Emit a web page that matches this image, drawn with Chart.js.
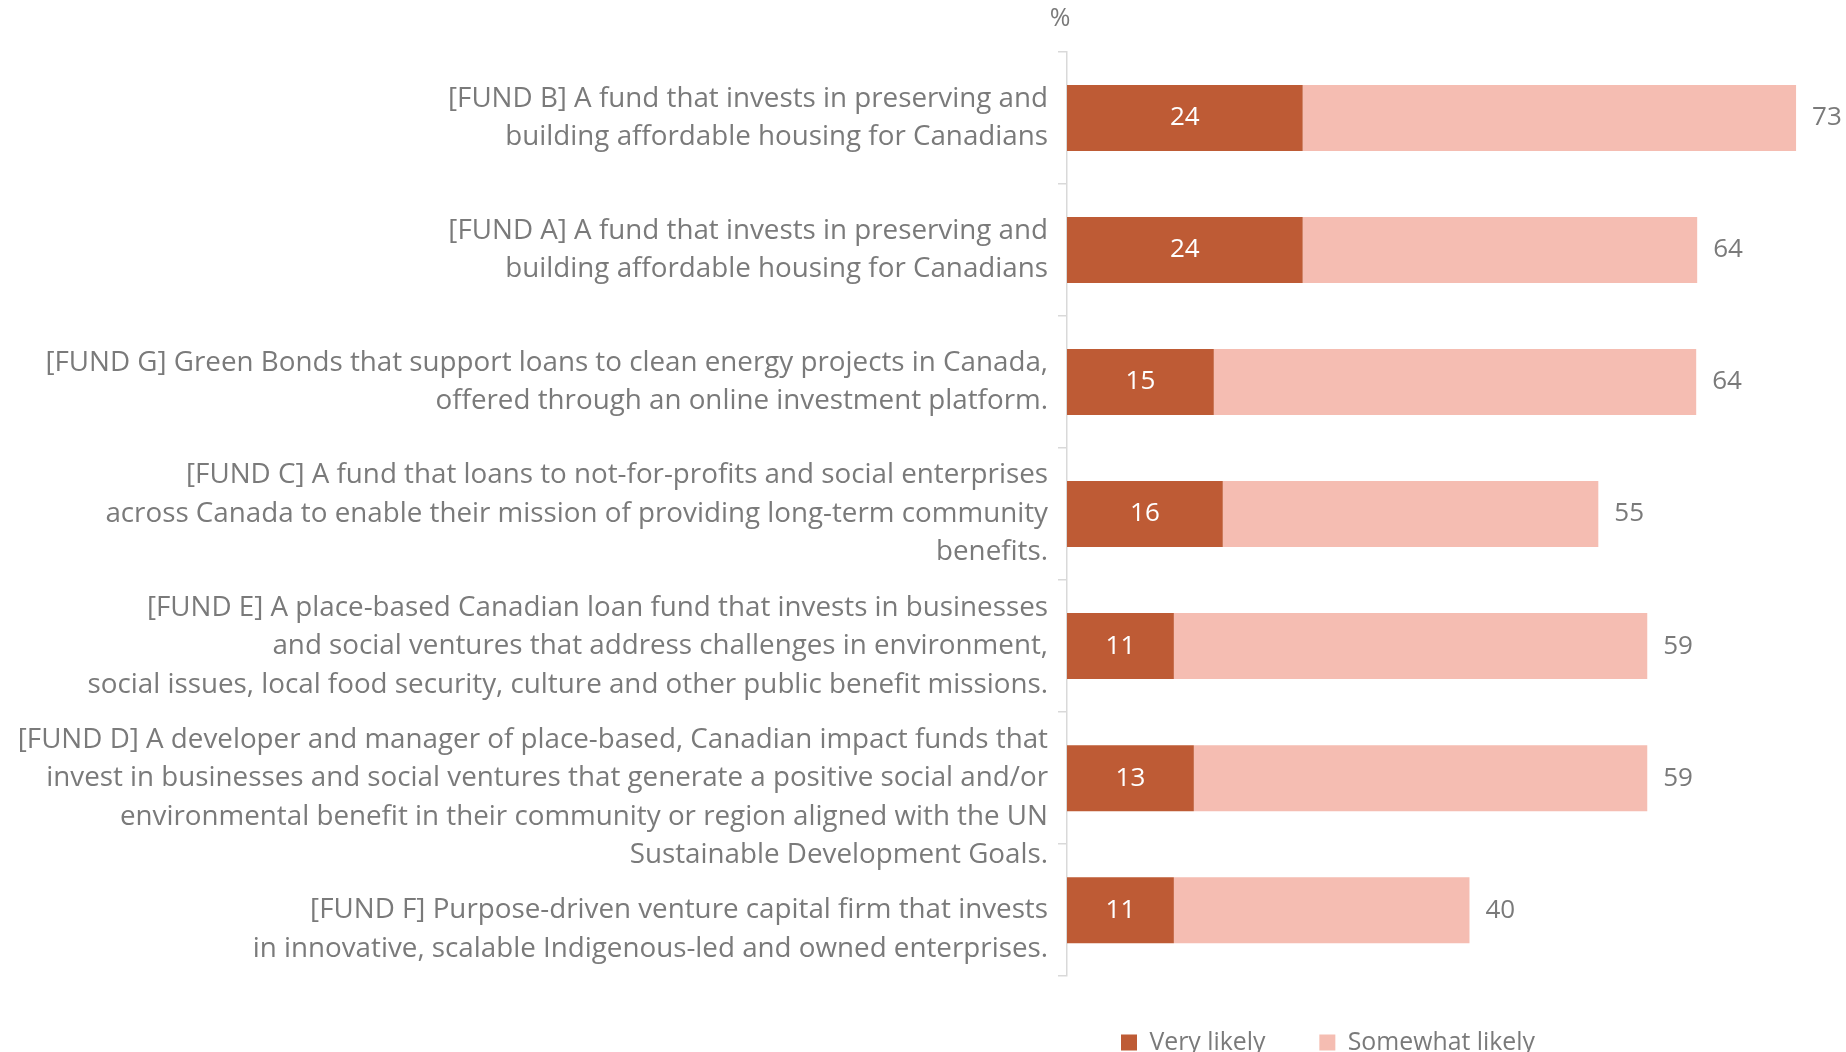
<!DOCTYPE html>
<html><head><meta charset="utf-8">
<script src="https://cdn.jsdelivr.net/npm/chart.js@4.4.1/dist/chart.umd.min.js"></script>
<style>
html,body{margin:0;padding:0;background:#fff;overflow:hidden;width:1846px;height:1052px;}
#wrap{position:absolute;left:0;top:0;}
canvas{display:block;}
</style></head><body>
<div id="wrap"><canvas id="c"></canvas></div>
<script>
// ---------- DATA ----------
const categories = [
  ["[FUND B] A fund that invests in preserving and", "building affordable housing for Canadians"],
  ["[FUND A] A fund that invests in preserving and", "building affordable housing for Canadians"],
  ["[FUND G] Green Bonds that support loans to clean energy projects in Canada,", "offered through an online investment platform."],
  ["[FUND C] A fund that loans to not-for-profits and social enterprises", "across Canada to enable their mission of providing long-term community", "benefits."],
  ["[FUND E] A place-based Canadian loan fund that invests in businesses", "and social ventures that address challenges in environment,", "social issues, local food security, culture and other public benefit missions."],
  ["", "[FUND D] A developer and manager of place-based, Canadian impact funds that", "invest in businesses and social ventures that generate a positive social and/or", "environmental benefit in their community or region aligned with the UN", "Sustainable Development Goals."],
  ["", "[FUND F] Purpose-driven venture capital firm that invests", "in innovative, scalable Indigenous-led and owned enterprises."]
];
const seriesNames = ["Very likely", "Somewhat likely"];
const veryLikely = [23.6, 23.6, 14.7, 15.6, 10.7, 12.7, 10.7];
const somewhatLikely = [49.4, 39.5, 48.3, 37.6, 47.4, 45.4, 29.6];
const totalLabels = [73, 64, 64, 55, 59, 59, 40];
const unitLabel = "%";

// ---------- STYLE ----------
const FAMILY = "'Open Sans', 'Noto Sans', sans-serif";
const GRAY = "#7a7a7a";
const DARK = "#BE5B35";
const LIGHT = "#F5BDB2";
const W = 1846;

const mc = document.createElement('canvas').getContext('2d');
function fit(text, target) { mc.font = "100px " + FAMILY; return 100 * target / mc.measureText(text).width; }
const catSize = fit("[FUND D] A developer and manager of place-based, Canadian impact funds that", 1031);
const legSize = fit("Very likely", 116);
const valSize = 26;
const pctSize = 25;

const areaTop = 52, areaBottom = 976, axisLeft = 1067;
const legCenterY = 1042;
const legPad = Math.round(legCenterY - areaBottom - legSize / 2);
const H = Math.round(areaBottom + legSize + legPad + 10);

const cv = document.getElementById('c');
cv.width = W; cv.height = H;
cv.style.width = W + 'px'; cv.style.height = H + 'px';

Chart.defaults.font.family = FAMILY;
Chart.defaults.color = GRAY;

const labelPlugin = {
  id: 'barLabels',
  afterDatasetsDraw(chart) {
    const ctx = chart.ctx;
    const m0 = chart.getDatasetMeta(0), m1 = chart.getDatasetMeta(1);
    ctx.save();
    ctx.font = valSize + "px " + FAMILY;
    ctx.textBaseline = 'middle';
    m0.data.forEach((el, i) => {
      ctx.fillStyle = '#ffffff'; ctx.textAlign = 'center';
      ctx.fillText(String(Math.round(veryLikely[i])), (el.x + el.base) / 2, el.y);
    });
    m1.data.forEach((el, i) => {
      ctx.fillStyle = GRAY; ctx.textAlign = 'left';
      ctx.fillText(String(totalLabels[i]), el.x + 16, el.y);
    });
    ctx.font = pctSize + "px " + FAMILY;
    ctx.fillStyle = GRAY; ctx.textAlign = 'center';
    ctx.fillText(unitLabel, chart.chartArea.left - 7, 19);
    ctx.restore();
  }
};

new Chart(cv, {
  type: 'bar',
  data: {
    labels: categories,
    datasets: [
      { label: seriesNames[0], data: veryLikely, backgroundColor: DARK, borderWidth: 0, barPercentage: 0.5, categoryPercentage: 1 },
      { label: seriesNames[1], data: somewhatLikely, backgroundColor: LIGHT, borderWidth: 0, barPercentage: 0.5, categoryPercentage: 1 }
    ]
  },
  options: {
    indexAxis: 'y',
    responsive: false,
    animation: false,
    devicePixelRatio: 1,
    layout: { padding: { top: areaTop, left: 0, right: 0, bottom: 0 } },
    scales: {
      x: { display: false, stacked: true, min: 0, max: 78 },
      y: {
        stacked: true,
        grid: { display: true, drawOnChartArea: false, drawTicks: true, tickLength: 9, color: '#d9d9d9', offset: true, lineWidth: 1.5 },
        border: { display: true, color: '#d9d9d9', width: 1.5 },
        ticks: { autoSkip: false, color: GRAY, padding: 10, font: { family: FAMILY, size: catSize, lineHeight: 38.5 / catSize } },
        afterFit(s) { s.width = axisLeft; s.paddingTop = 0; s.paddingBottom = 0; }
      }
    },
    plugins: {
      legend: {
        position: 'bottom', align: 'start', fullSize: false,
        labels: { boxWidth: 16, boxHeight: 16, padding: legPad, color: GRAY, font: { family: FAMILY, size: legSize } }
      },
      tooltip: { enabled: false },
      title: { display: false }
    }
  },
  plugins: [labelPlugin]
});
</script>
</body></html>
